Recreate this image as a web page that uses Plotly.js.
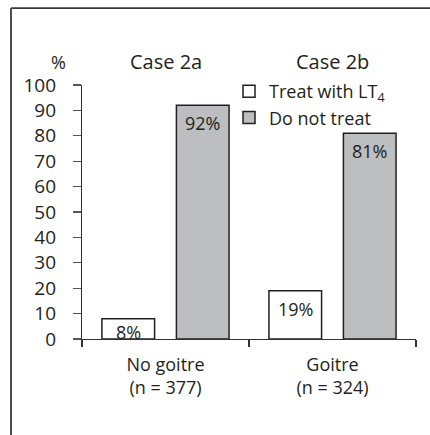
<!DOCTYPE html>
<html>
<head>
<meta charset="utf-8">
<script src="https://cdn.plot.ly/plotly-3.0.1.min.js"></script>
<style>
html,body{margin:0;padding:0;background:#fff;}
#chart{width:430px;height:435px;}
</style>
</head>
<body>
<div id="chart"></div>
<script>
// ---- data ----
const categories = ['No goitre<br>(n = 377)', 'Goitre<br>(n = 324)'];
const caseLabels = ['Case 2a', 'Case 2b'];
const seriesNames = ['Treat with LT<sub>4</sub>', 'Do not treat'];
const treatValues = [8, 19];
const noTreatValues = [92, 81];
const yTickValues = [0, 10, 20, 30, 40, 50, 60, 70, 80, 90, 100];

// ---- layout geometry ----
const W = 430, H = 435;
const M = {l: 82, r: 14, t: 85, b: 95.5};
const plotW = W - M.l - M.r;
const plotH = H - M.t - M.b;
const bargap = 0.108;
const catW = plotW / categories.length;
const slotW = catW * (1 - bargap) / 2;
const px2x = p => (p - M.l) / plotW;
const py2y = p => (H - M.b - p) / plotH;

const ink = '#231f20';
const fontFam = '"Open Sans", "DejaVu Sans", sans-serif';

const traces = [
  {type: 'bar', name: seriesNames[0], x: categories, y: treatValues,
   marker: {color: '#ffffff', line: {color: ink, width: 1.5}}, hoverinfo: 'none'},
  {type: 'bar', name: seriesNames[1], x: categories, y: noTreatValues,
   marker: {color: '#bcbec0', line: {color: ink, width: 1.5}}, hoverinfo: 'none'}
];

const annotations = [];
[treatValues, noTreatValues].forEach((vals, si) => {
  vals.forEach((v, ci) => {
    annotations.push({
      xref: 'x', yref: 'y', x: categories[ci], y: v,
      xshift: (si === 0 ? -1 : 1) * slotW / 2,
      yshift: v < 10 ? 1 : -4,
      yanchor: 'top', xanchor: 'center', showarrow: false,
      text: v + '%', font: {family: fontFam, size: 18, color: ink}
    });
  });
});
caseLabels.forEach((t, ci) => {
  annotations.push({
    xref: 'x', yref: 'paper', x: categories[ci], y: py2y(61),
    yanchor: 'middle', xanchor: 'center', showarrow: false,
    text: t, font: {family: fontFam, size: 20, color: ink}
  });
});
annotations.push({
  xref: 'paper', yref: 'paper', x: px2x(58), y: py2y(62),
  xanchor: 'center', yanchor: 'middle', showarrow: false,
  text: '%', font: {family: fontFam, size: 18, color: ink}
});

const layout = {
  width: W, height: H,
  margin: M,
  paper_bgcolor: '#fff', plot_bgcolor: '#fff',
  barmode: 'group', bargap: bargap, bargroupgap: 0.293,
  font: {family: fontFam, color: ink},
  showlegend: true,
  legend: {
    x: px2x(229), y: py2y(73), xanchor: 'left', yanchor: 'top',
    bgcolor: 'rgba(0,0,0,0)', borderwidth: 0,
    font: {family: fontFam, size: 18, color: ink},
    itemwidth: 30, tracegroupgap: 0
  },
  xaxis: {
    type: 'category', showgrid: false, zeroline: false,
    showline: true, linecolor: '#333', linewidth: 1.2,
    ticks: 'outside', tickson: 'boundaries', ticklen: 7, tickcolor: '#333', tickwidth: 1.2,
    ticklabelstandoff: 9,
    tickfont: {family: fontFam, size: 18, color: ink},
    fixedrange: true
  },
  yaxis: {
    range: [0, 100], tickvals: yTickValues, ticktext: yTickValues.map(String),
    showgrid: false, zeroline: false,
    showline: true, linecolor: '#333', linewidth: 1.2,
    ticks: 'outside', ticklen: 8, tickcolor: '#555', tickwidth: 1.2,
    ticklabelstandoff: 13,
    tickfont: {family: fontFam, size: 19, color: ink},
    fixedrange: true
  },
  annotations: annotations,
  shapes: [
    {type: 'line', xref: 'paper', yref: 'paper', x0: px2x(11), x1: px2x(431), y0: py2y(8), y1: py2y(8),
     line: {color: '#3a3a3a', width: 1.8}},
    {type: 'line', xref: 'paper', yref: 'paper', x0: px2x(11), x1: px2x(11), y0: py2y(8), y1: py2y(436),
     line: {color: '#3a3a3a', width: 1.8}}
  ]
};

Plotly.newPlot('chart', traces, layout, {displayModeBar: false, staticPlot: true});
</script>
</body>
</html>
